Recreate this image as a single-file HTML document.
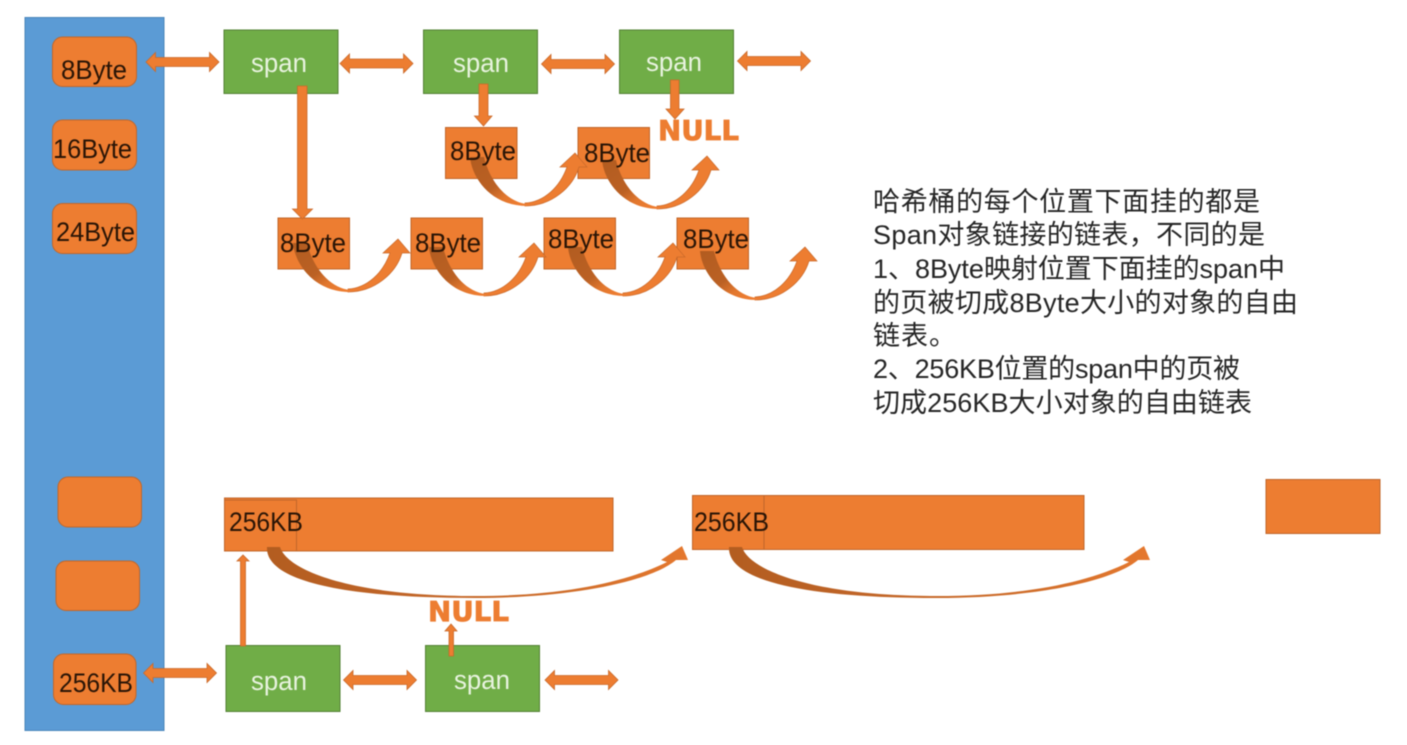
<!DOCTYPE html>
<html><head><meta charset="utf-8"><style>
html,body{margin:0;padding:0;background:#fff;width:1407px;height:745px;overflow:hidden}
svg{display:block;filter:blur(.45px)}
text{font-family:"Liberation Sans","Noto Sans CJK SC",sans-serif}
.l{font-size:27px;fill:#2a1506}
.s{font-size:27px;fill:#e8f3df}
.t{font-size:27px;fill:#262626}
.n{font-family:"DejaVu Sans","Liberation Sans",sans-serif;font-size:28px;font-weight:bold;fill:#ed7d31;stroke:#ed7d31;stroke-width:.8px}
</style></head><body>
<svg width="1407" height="745" viewBox="0 0 1407 745" xmlns="http://www.w3.org/2000/svg">
<defs>
<linearGradient id="d" x1="0" y1="0" x2="0.8" y2="1"><stop offset="0" stop-color="#b25c20"/><stop offset=".58" stop-color="#bb6124"/><stop offset=".8" stop-color="#e2772e"/><stop offset="1" stop-color="#ed7d31"/></linearGradient>
<linearGradient id="d2" x1="0" y1="0" x2="1" y2="0"><stop offset="0" stop-color="#b35d20"/><stop offset=".3" stop-color="#bf6427"/><stop offset=".7" stop-color="#cf6d2a"/><stop offset="1" stop-color="#e5782e"/></linearGradient>
<g id="c">
<path d="M55,49 C82,49 103,30 109,10 L117,10 L105,-4 L90,10 L97,10 C90,30 74,45 55,46 Z" fill="#ed7d31" stroke="#c9692a" stroke-width=".7"/>
<path d="M0,0 C2,22 22,49 57,49 L57,47 C37,45 20,25 14,0 Z" fill="url(#d)"/>
</g>
<g id="da"><path d="M0,0 L9.5,-9.500 L9.5,-4.500 L63.500,-4.500 L63.500,-9.500 L73,0 L63.500,9.500 L63.500,4.500 L9.5,4.500 L9.5,9.500 Z" fill="#ed7d31" stroke="#c9692a" stroke-width=".8"/></g>
<path id="la" d="M267,547 H280 C287,570 350,596 475,596 C560,596 625,583 667,562 L661,560 L682,546 L688,560 L676,560 C650,582 570,598 475,598 C340,598 265,580 267,547 Z" fill="url(#d2)"/>
</defs>

<rect x="25" y="17.500" width="139" height="713" fill="#5b9bd5" stroke="#4a86bb" stroke-width="1"/>
<g fill="#ed7d31" stroke="#c0662a" stroke-width="1">
<rect x="52.500" y="37" width="84" height="49.500" rx="10"/>
<rect x="52.500" y="120" width="84" height="50" rx="10"/>
<rect x="52.500" y="203.500" width="84" height="50" rx="10"/>
<rect x="58" y="477" width="83.500" height="50" rx="10"/>
<rect x="56" y="561" width="83.500" height="49.500" rx="10"/>
<rect x="53.500" y="654" width="82.500" height="50.500" rx="10"/>
</g>
<g fill="#70ad47" stroke="#548235" stroke-width="1">
<rect x="224" y="30" width="114" height="63.500"/>
<rect x="423.500" y="30" width="114" height="63.500"/>
<rect x="619.500" y="30" width="114" height="63.500"/>
<rect x="226" y="645.500" width="114" height="66"/>
<rect x="425.500" y="645.500" width="114" height="66"/>
</g>
<g fill="#ed7d31" stroke="#c0662a" stroke-width="1">
<rect x="445.500" y="127.500" width="71.500" height="51"/>
<rect x="578" y="127.500" width="71.500" height="51"/>
<rect x="278" y="218" width="71.500" height="51"/>
<rect x="411" y="218" width="71.500" height="51"/>
<rect x="544" y="218" width="71.500" height="51"/>
<rect x="677" y="218" width="71.500" height="51"/>
<rect x="224.500" y="498" width="388.500" height="53"/>
<rect x="224.500" y="500" width="72" height="51" fill="none"/>
<rect x="692.500" y="495.500" width="391.500" height="54"/>
<line x1="764" y1="495.500" x2="764" y2="549.500"/>
<rect x="1266" y="479.500" width="114" height="54"/>
</g>

<use href="#da" x="146" y="62"/>
<use href="#da" x="340" y="63.500"/>
<use href="#da" x="541.500" y="64"/>
<use href="#da" x="737.500" y="61"/>
<use href="#da" x="143.500" y="673"/>
<use href="#da" x="343.500" y="680"/>
<use href="#da" x="545" y="680"/>

<g fill="#ed7d31" stroke="#c9692a" stroke-width=".8">
<path d="M297.500,86 H307 V209 H312.500 L302.500,219 L292.500,209 H297.500 Z"/>
<path d="M479,84 H488 V116 H492 L483.500,126 L474.500,116 H479 Z"/>
<path d="M670.500,80 H679 V109 H684 L675,119 L666,109 H670.500 Z"/>
<path d="M240.500,646 V561 H237 L243,555 L249,561 H245.500 V646 Z"/>
<path d="M449,656 V631 H445 L451,624 L457,631 H453.500 V656 Z"/>
</g>

<use href="#c" x="470" y="157"/>
<use href="#c" x="602" y="160"/>
<use href="#c" x="293" y="243"/>
<use href="#c" x="429" y="247"/>
<use href="#c" x="568" y="247"/>
<use href="#c" x="700" y="251"/>

<use href="#la"/>
<use href="#la" x="462"/>

<text class="l" x="61" y="79" textLength="66" lengthAdjust="spacingAndGlyphs">8Byte</text>
<text class="l" x="53" y="158" textLength="79" lengthAdjust="spacingAndGlyphs">16Byte</text>
<text class="l" x="56" y="241" textLength="79" lengthAdjust="spacingAndGlyphs">24Byte</text>
<text class="l" x="59" y="692" textLength="74" lengthAdjust="spacingAndGlyphs">256KB</text>
<text class="l" x="229" y="531" textLength="74" lengthAdjust="spacingAndGlyphs">256KB</text>
<text class="l" x="694" y="531" textLength="75" lengthAdjust="spacingAndGlyphs">256KB</text>
<text class="l" x="450" y="160" textLength="66" lengthAdjust="spacingAndGlyphs">8Byte</text>
<text class="l" x="584" y="162" textLength="66" lengthAdjust="spacingAndGlyphs">8Byte</text>
<text class="l" x="280" y="252" textLength="66" lengthAdjust="spacingAndGlyphs">8Byte</text>
<text class="l" x="415" y="252" textLength="66" lengthAdjust="spacingAndGlyphs">8Byte</text>
<text class="l" x="548" y="248" textLength="66" lengthAdjust="spacingAndGlyphs">8Byte</text>
<text class="l" x="683" y="248" textLength="66" lengthAdjust="spacingAndGlyphs">8Byte</text>

<text class="s" x="251" y="72" textLength="56" lengthAdjust="spacingAndGlyphs">span</text>
<text class="s" x="453" y="72" textLength="56" lengthAdjust="spacingAndGlyphs">span</text>
<text class="s" x="646" y="71" textLength="56" lengthAdjust="spacingAndGlyphs">span</text>
<text class="s" x="251" y="690" textLength="56" lengthAdjust="spacingAndGlyphs">span</text>
<text class="s" x="454" y="689" textLength="56" lengthAdjust="spacingAndGlyphs">span</text>

<text class="n" x="658" y="140" textLength="81" lengthAdjust="spacingAndGlyphs">NULL</text>
<text class="n" x="428" y="621" textLength="81" lengthAdjust="spacingAndGlyphs">NULL</text>

<text class="t" x="873" y="211" textLength="387">哈希桶的每个位置下面挂的都是</text>
<text class="t" x="873" y="244" textLength="392">Span对象链接的链表，不同的是</text>
<text class="t" x="873" y="278" textLength="412">1、8Byte映射位置下面挂的span中</text>
<text class="t" x="873" y="312" textLength="425">的页被切成8Byte大小的对象的自由</text>
<text class="t" x="873" y="345" textLength="83">链表。</text>
<text class="t" x="873" y="378" textLength="367">2、256KB位置的span中的页被</text>
<text class="t" x="873" y="412" textLength="379">切成256KB大小对象的自由链表</text>
</svg>
</body></html>
